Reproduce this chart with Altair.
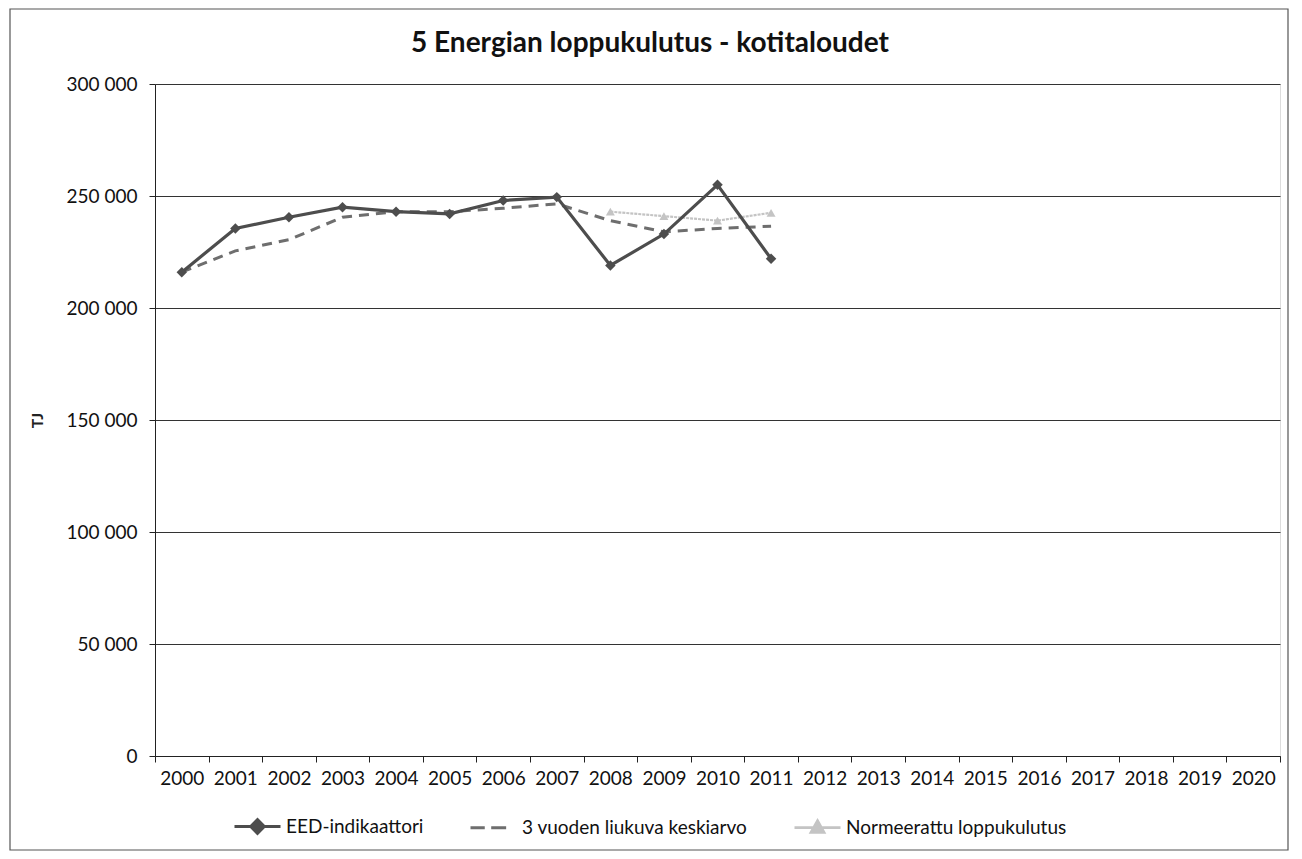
import altair as alt
import pandas as pd

years_all = [str(y) for y in range(2000, 2021)]
years_data = [str(y) for y in range(2000, 2012)]
eed = [216000, 235500, 240500, 245000, 243000, 242000, 248000, 249500, 219000, 233000, 255000, 222000]
ma = [216000, 225500, 230500, 240500, 243000, 243000, 244500, 246500, 239000, 234000, 235500, 236500]
norm_years = ["2008", "2009", "2010", "2011"]
norm = [243000, 241000, 239000, 242500]

s_eed = "EED-indikaattori"
s_ma = "3 vuoden liukuva keskiarvo"
s_norm = "Normeerattu loppukulutus"
series = [s_eed, s_ma, s_norm]
c_eed, c_ma, c_norm = "#4d4d4d", "#6e6e6e", "#c4c4c4"
colors = [c_eed, c_ma, c_norm]
title_text = "5 Energian loppukulutus - kotitaloudet"

rows = []
for y, v in zip(years_data, eed):
    rows.append({"year": y, "value": v, "series": s_eed})
for y, v in zip(years_data, ma):
    rows.append({"year": y, "value": v, "series": s_ma})
for y, v in zip(norm_years, norm):
    rows.append({"year": y, "value": v, "series": s_norm})
df = pd.DataFrame(rows)

FONT = "Lato"

x_enc = alt.X("year:O", scale=alt.Scale(domain=years_all, type="band", paddingInner=0, paddingOuter=0),
              axis=alt.Axis(title=None, labelAngle=0, tickBand="extent", labelFontSize=19,
                            labelColor="#111", labelFont=FONT, tickSize=6, tickColor="#222",
                            domainColor="#222", labelPadding=7, grid=False))
y_enc = alt.Y("value:Q", scale=alt.Scale(domain=[0, 300000]),
              axis=alt.Axis(title="TJ", values=[0, 50000, 100000, 150000, 200000, 250000, 300000],
                            labelExpr="replace(format(datum.value, ','), ',', ' ')",
                            labelFontSize=19, labelFont=FONT, labelColor="#111",
                            titleFontSize=16, titleFont=FONT, titleFontWeight="bold", titleColor="#222",
                            titleX=-110, titleY=336, tickSize=6, tickColor="#222", domainColor="#222",
                            gridColor="#333", gridWidth=1, labelPadding=12))


def sub(name):
    return alt.Chart(df).transform_filter(alt.datum.series == name)


line_eed = sub(s_eed).mark_line(color=c_eed, strokeWidth=3.2).encode(x=x_enc, y=y_enc)
line_ma = sub(s_ma).mark_line(color=c_ma, strokeWidth=3, strokeDash=[10, 7]).encode(x=x_enc, y=y_enc)
line_norm = sub(s_norm).mark_line(color=c_norm, strokeWidth=2.2, strokeDash=[3, 1]).encode(x=x_enc, y=y_enc)
pts_eed = sub(s_eed).mark_point(shape="diamond", filled=True, size=110, opacity=1, color=c_eed).encode(x=x_enc, y=y_enc)
pts_norm = sub(s_norm).mark_point(shape="triangle-up", filled=True, size=80, opacity=1, color=c_norm).encode(x=x_enc, y=y_enc)

shape_paths = [
    "M-1,0L1,0M0,-0.3L0.3,0L0,0.3L-0.3,0ZM0,-0.15L0.15,0L0,0.15L-0.15,0Z",
    "M-1,0L-0.38,0M-0.1,0L0.55,0",
    "M-1,0L1,0M0,-0.3L0.28,0.2L-0.28,0.2ZM0,-0.12L0.12,0.1L-0.12,0.1Z",
]
leg = dict(title=None, orient="none", direction="horizontal", legendX=78, legendY=718,
           symbolSize=2116, symbolStrokeWidth=2.8, symbolOpacity=1, labelFontSize=19, labelFont=FONT,
           labelColor="#111", columnPadding=40, labelOffset=4, labelLimit=500)
legend_layer = alt.Chart(df).mark_point(opacity=0, filled=False, strokeWidth=2.8).encode(
    x=x_enc, y=y_enc,
    color=alt.Color("series:N", scale=alt.Scale(domain=series, range=colors), legend=alt.Legend(**leg)),
    shape=alt.Shape("series:N", scale=alt.Scale(domain=series, range=shape_paths), legend=alt.Legend(**leg)),
)

one = pd.DataFrame({"a": [0]})
frame = alt.Chart(one).mark_rect(fill=None, stroke="#555", strokeWidth=1.2, clip=False).encode(
    x=alt.value(-145), x2=alt.value(1133), y=alt.value(-75), y2=alt.value(766))
title = alt.Chart(one).mark_text(text=title_text, font=FONT, fontSize=28, fontWeight="bold",
                                 color="#111", align="center", baseline="alphabetic").encode(
    x=alt.value(495), y=alt.value(-32))

chart = alt.layer(frame, title, line_ma, line_norm, line_eed, pts_eed, pts_norm, legend_layer).properties(
    width=1125, height=672,
    padding={"left": 147, "top": 76, "right": 10, "bottom": 95},
    autosize="none",
).configure_view(stroke=None).configure(background="white")

chart.save("out.html", embed_options={"renderer": "svg", "actions": False})
